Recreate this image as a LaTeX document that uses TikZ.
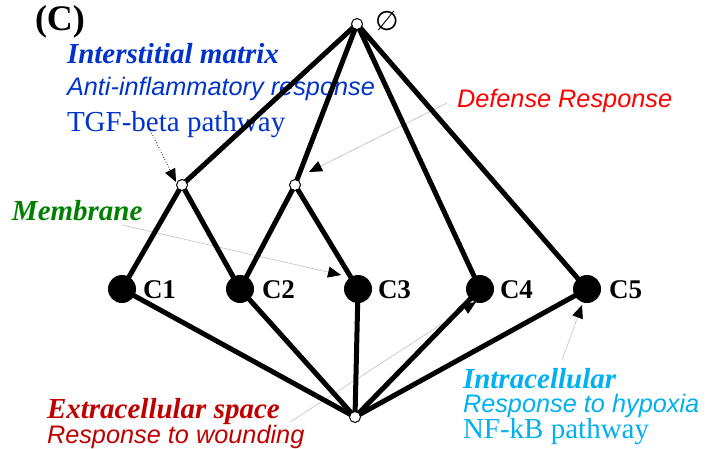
\documentclass[tikz,border=0pt]{standalone}
\usepackage{fontspec}
\setmainfont{Liberation Serif}
\setsansfont{Liberation Sans}
\newfontfamily\symfont{DejaVu Sans}
\usetikzlibrary{arrows.meta}
\definecolor{cblue}{HTML}{0033CC}
\definecolor{cred}{HTML}{FF0000}
\definecolor{cgreen}{HTML}{008000}
\definecolor{cdred}{HTML}{C00000}
\definecolor{ccyan}{HTML}{00B0F0}
\definecolor{annline}{HTML}{C8C8C8}
\begin{document}
\begin{tikzpicture}[x=1pt,y=-1pt,
  edge/.style={line width=5pt},
  leaf/.style={circle,fill=black,inner sep=0pt,minimum size=28pt},
  hub/.style={circle,draw=black,fill=white,line width=1pt,inner sep=0pt,minimum size=11pt},
  ann/.style={draw=annline,line width=0.7pt,-{Triangle[length=13pt,width=11pt,color=black]}},
  annd/.style={draw=black,dotted,line width=0.7pt,-{Triangle[length=13pt,width=11pt,color=black]}},
  lbl/.style={anchor=base west,inner sep=0pt,outer sep=0pt},
  sbi/.style={font=\fontsize{29}{29}\selectfont\bfseries\itshape},
  sr/.style={font=\fontsize{29}{29}\selectfont},
  si/.style={font=\fontsize{25.3}{25.3}\selectfont\sffamily\itshape},
  cl/.style={lbl,font=\fontsize{27}{27}\selectfont\bfseries}
]
\useasboundingbox (0,0) rectangle (707,448);

% texts
\node[lbl,font=\fontsize{36}{36}\selectfont\bfseries] (title) at (35,30) {(C)};
\node[lbl,sbi,text=cblue] (im) at (67,63) {Interstitial matrix};
\node[lbl,si,text=cblue] (air) at (67,95) {Anti-inflammatory response};
\node[lbl,sr,text=cblue] (tgf) at (67,131) {TGF-beta pathway};
\node[lbl,si,text=cred] (def) at (457,107) {Defense Response};
\node[lbl,sbi,text=cgreen] (mem) at (12,220) {Membrane};
\node[lbl,sbi,text=cdred] (ext) at (47,418) {Extracellular space};
\node[lbl,si,text=cdred] (rtw) at (47,443) {Response to wounding};
\node[lbl,sbi,text=ccyan] (intr) at (463,388) {Intracellular};
\node[lbl,si,text=ccyan] (rth) at (463,412) {Response to hypoxia};
\node[lbl,sr,text=ccyan] (nfk) at (463,438) {NF-kB pathway};

% graph node positions
\coordinate (top) at (357,24);
\coordinate (li) at (182,185);
\coordinate (ri) at (295,185);
\coordinate (c1) at (122,289);
\coordinate (c2) at (240,289);
\coordinate (c3) at (358,289);
\coordinate (c4) at (480,289);
\coordinate (c5) at (587,289);
\coordinate (bot) at (355,417);

% annotation connectors
\coordinate (tgfa) at (149,128);
\coordinate (tgft) at (176,182);
\coordinate (defa) at (447,103);
\coordinate (deft) at (309,172);
\coordinate (mema) at (122,225);
\coordinate (memt) at (341,275);
\coordinate (exta) at (290,422);
\coordinate (extt) at (476,302);
\coordinate (inta) at (562,360);
\coordinate (intt) at (582,305);
\draw[ann] (defa) -- (deft);
\draw[ann] (mema) -- (memt);
\draw[ann] (exta) -- (extt);
\draw[ann] (inta) -- (intt);
\draw[annd] (tgfa) -- (tgft);

% edges
\draw[edge] (top) -- (li);
\draw[edge] (top) -- (ri);
\draw[edge] (top) -- (c4);
\draw[edge] (top) -- (c5);
\draw[edge] (li) -- (c1);
\draw[edge] (li) -- (c2);
\draw[edge] (ri) -- (c2);
\draw[edge] (ri) -- (c3);
\draw[edge] (bot) -- (c1);
\draw[edge] (bot) -- (c2);
\draw[edge] (bot) -- (c3);
\draw[edge] (bot) -- (c4);
\draw[edge] (bot) -- (c5);

% nodes
\node[hub] (ntop) at (top) {};
\node[hub] (nli) at (li) {};
\node[hub] (nri) at (ri) {};
\node[hub] (nbot) at (bot) {};
\node[leaf] (n1) at (c1) {};
\node[leaf] (n2) at (c2) {};
\node[leaf] (n3) at (c3) {};
\node[leaf] (n4) at (c4) {};
\node[leaf] (n5) at (c5) {};
\node[cl] (l1) at (143,298) {C1};
\node[cl] (l2) at (262,298) {C2};
\node[cl] (l3) at (378,298) {C3};
\node[cl] (l4) at (500,298) {C4};
\node[cl] (l5) at (609,298) {C5};
\node[lbl,font=\fontsize{27}{27}\selectfont\symfont] (empty) at (375,30) {∅};
\end{tikzpicture}
\end{document}
